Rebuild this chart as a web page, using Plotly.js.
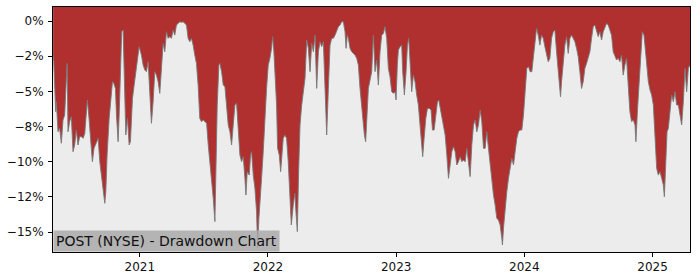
<!DOCTYPE html>
<html>
<head>
<meta charset="utf-8">
<script src="https://cdn.plot.ly/plotly-3.0.1.min.js"></script>
<style>html,body{margin:0;padding:0;background:#fff;}#chart{width:700px;height:280px;}</style>
</head>
<body>
<div id="chart"></div>
<script>
// Time in decimal years
const years = [
2020.324,2020.329,2020.344,2020.349,2020.362,2020.375,2020.388,2020.401,2020.414,2020.427,2020.433,2020.440,2020.453,2020.466,2020.479,2020.492,2020.505,2020.518,2020.531,2020.545,2020.558,2020.571,2020.584,2020.591,2020.604,2020.615,2020.630,2020.643,2020.662,2020.675,2020.688,2020.701,2020.714,2020.727,2020.735,2020.745,2020.761,2020.774,2020.787,2020.797,2020.810,2020.818,2020.831,2020.839,2020.849,2020.859,2020.870,2020.880,2020.891,2020.904,2020.917,2020.927,2020.943,2020.956,2020.969,2020.982,2020.995,
2021.013,2021.026,2021.039,2021.052,2021.065,2021.078,2021.091,2021.104,2021.117,2021.130,2021.143,2021.156,2021.169,2021.182,2021.195,2021.208,2021.221,2021.234,2021.247,2021.260,2021.273,2021.286,2021.299,2021.312,2021.325,2021.338,2021.351,2021.364,2021.377,2021.390,2021.403,2021.416,2021.429,2021.442,2021.455,2021.468,2021.481,2021.495,2021.508,2021.521,2021.534,2021.547,2021.560,2021.573,
2021.586,2021.594,2021.604,2021.617,2021.625,2021.638,2021.651,2021.664,2021.677,2021.690,2021.703,2021.716,2021.729,2021.742,2021.755,2021.768,2021.781,2021.794,2021.807,2021.820,2021.828,2021.838,2021.854,2021.864,2021.872,2021.885,2021.898,2021.911,2021.919,2021.929,2021.937,2021.950,2021.963,2021.976,2021.989,
2022.002,2022.015,2022.028,2022.036,2022.046,2022.054,2022.067,2022.075,2022.088,2022.099,2022.106,2022.119,2022.132,2022.145,2022.158,2022.171,2022.182,2022.197,2022.210,2022.218,2022.229,2022.239,2022.250,2022.263,2022.276,2022.289,2022.302,2022.315,2022.328,2022.341,2022.354,2022.367,2022.380,2022.393,2022.406,2022.419,2022.432,2022.445,2022.458,2022.471,2022.484,2022.497,2022.510,2022.523,2022.536,2022.549,2022.562,2022.575,2022.588,2022.601,2022.609,2022.619,2022.627,2022.640,2022.653,2022.666,2022.679,2022.692,2022.705,2022.718,2022.731,2022.744,2022.752,2022.762,2022.770,2022.783,
2022.809,2022.822,2022.835,2022.848,2022.861,2022.874,2022.887,2022.900,2022.913,2022.926,2022.939,2022.952,2022.965,2022.978,2022.991,2022.999,
2023.009,2023.017,2023.030,2023.043,2023.051,2023.064,2023.077,2023.088,2023.098,2023.108,2023.121,2023.134,2023.147,2023.160,2023.173,2023.186,2023.199,2023.207,2023.218,2023.231,2023.244,2023.259,2023.272,2023.283,2023.296,2023.309,2023.322,2023.332,2023.343,2023.356,2023.369,2023.382,2023.395,2023.408,2023.421,2023.434,2023.447,2023.460,2023.473,2023.486,2023.499,2023.512,2023.525,2023.538,2023.551,2023.564,2023.577,2023.590,2023.603,2023.616,2023.629,2023.642,2023.655,2023.668,2023.681,2023.694,2023.707,2023.720,2023.733,2023.746,2023.759,2023.772,2023.785,2023.798,2023.811,2023.824,2023.829,2023.837,2023.850,2023.863,2023.876,2023.889,2023.902,2023.915,2023.928,2023.941,2023.954,2023.967,2023.980,2023.993,
2024.006,2024.019,2024.032,2024.045,2024.058,2024.071,2024.084,2024.095,2024.108,2024.121,2024.134,2024.147,2024.160,2024.173,2024.186,2024.199,2024.212,2024.225,2024.238,2024.251,2024.264,2024.277,2024.282,2024.290,2024.303,2024.316,2024.329,2024.342,2024.355,2024.368,2024.381,2024.394,2024.407,2024.420,2024.433,2024.446,2024.459,2024.472,2024.485,2024.498,2024.511,2024.524,2024.537,2024.550,2024.563,2024.576,2024.589,2024.602,2024.615,2024.628,2024.641,2024.654,2024.667,2024.680,2024.693,2024.706,2024.719,2024.732,2024.745,2024.758,2024.771,2024.784,2024.797,2024.810,2024.823,2024.836,2024.850,2024.863,2024.870,2024.883,2024.896,2024.909,2024.920,2024.933,2024.941,2024.954,2024.967,2024.980,2024.993,
2025.006,2025.019,2025.032,2025.045,2025.058,2025.071,2025.084,2025.092,2025.102,2025.113,2025.123,2025.136,2025.149,2025.162,2025.175,2025.188,2025.201,2025.214,2025.227,2025.240,2025.253,2025.266,2025.279,2025.292
];

// Drawdown in percent
const drawdown = [
-2.50,-2.89,-6.44,-5.73,-7.87,-7.63,-8.69,-7.04,-6.68,-3.13,-3.01,-7.87,-7.15,-6.80,-9.29,-8.81,-7.75,-8.81,-8.22,-8.22,-8.34,-7.98,-6.68,-5.61,-6.92,-8.10,-10.00,-9.05,-8.58,-8.34,-10.00,-10.95,-12.13,-12.96,-12.13,-9.52,-6.92,-5.26,-4.31,-4.43,-4.79,-6.68,-8.58,-6.68,-3.36,-0.76,-0.64,-3.60,-8.10,-6.92,-8.81,-8.58,-5.50,-4.55,-3.60,-2.65,-1.82,
-2.42,-3.13,-3.48,-3.60,-2.89,-5.50,-7.27,-5.73,-3.60,-3.84,-4.31,-5.14,-3.13,-1.59,-2.18,-0.76,-1.23,-1.11,-1.23,-0.64,-1.00,-0.28,-0.17,-0.05,-0.09,-0.05,-0.17,-0.28,-1.23,-1.47,-1.23,-1.71,-2.42,-3.01,-4.55,-6.92,-7.15,-7.04,-7.15,-7.27,-8.81,-10.00,-11.42,-12.60,
-14.26,-10.71,-5.97,-3.13,-3.01,-3.60,-4.55,-4.67,-5.97,-7.39,-7.87,-8.81,-7.39,-5.97,-5.85,-7.87,-9.52,-10.00,-9.64,-11.18,-12.37,-10.71,-10.95,-9.52,-9.29,-10.95,-11.89,-13.55,-16.16,-14.02,-13.08,-11.18,-9.29,-6.68,-4.79,
-3.13,-2.65,-1.94,-1.11,-2.18,-3.36,-5.97,-9.05,-9.52,-10.71,-9.76,-8.34,-8.10,-8.34,-10.00,-12.13,-14.50,-13.08,-12.25,-13.55,-14.97,-10.71,-7.39,-5.97,-4.79,-4.07,-1.35,-1.94,-3.60,-1.59,-2.18,-1.00,-4.79,-2.18,-1.47,-1.82,-1.47,-4.31,-8.10,-4.79,-1.71,-1.23,-1.23,-1.00,-0.64,-0.40,-0.28,-0.05,-0.05,-0.76,-1.94,-1.00,-1.23,-1.94,-2.18,-2.30,-2.42,-2.65,-3.13,-4.79,-5.97,-7.63,-8.10,-8.58,-6.68,-4.79,
-3.60,-1.00,-3.60,-2.77,-4.55,-2.18,-1.00,-0.88,-0.40,-1.23,-3.36,-3.96,-5.02,-5.14,-5.02,-5.61,
-3.13,-2.06,-1.82,-1.71,-3.60,-5.26,-3.60,-1.71,-1.23,-3.36,-5.02,-3.84,-4.31,-5.26,-5.97,-7.39,-9.29,-9.64,-8.34,-6.92,-6.21,-6.21,-6.33,-7.75,-7.75,-6.92,-5.73,-5.61,-6.21,-6.92,-7.63,-8.10,-9.52,-11.18,-10.23,-9.29,-8.93,-9.29,-10.23,-10.00,-9.64,-10.00,-9.88,-10.00,-9.05,-10.00,-11.06,-8.81,-7.39,-7.04,-7.87,-7.39,-6.33,-7.15,-9.05,-9.05,-7.87,-9.05,-10.23,-11.42,-12.37,-13.08,-14.03,-14.14,-14.50,-15.45,-15.92,-14.74,-13.08,-12.13,-11.18,-10.47,-9.76,-10.23,-9.05,-8.34,-7.87,-7.75,-7.75,-6.68,
-5.02,-3.36,-3.25,-3.60,-3.60,-2.42,-1.71,-0.52,-1.00,-1.71,-1.00,-1.23,-1.82,-2.42,-2.89,-2.65,-1.23,-0.76,-0.64,-2.18,-3.60,-4.55,-5.38,-4.31,-2.89,-1.71,-1.11,-2.30,-1.23,-1.00,-1.23,-1.47,-1.94,-2.53,-3.60,-4.79,-4.31,-3.36,-3.01,-2.65,-2.18,-1.23,-0.40,-0.28,-0.76,-1.11,-0.76,-1.35,-0.76,-0.40,-0.17,-0.28,-0.64,-1.00,-2.18,-2.42,-2.77,-2.65,-2.89,-2.42,-3.84,-3.13,-2.65,-4.55,-6.44,-7.15,-7.04,-7.39,-8.58,-6.21,-4.55,-2.42,-0.76,-1.00,-1.71,-2.65,-4.31,-4.90,-5.26,
-5.97,-8.34,-10.47,-10.95,-10.71,-11.18,-11.66,-12.49,-10.00,-7.87,-7.63,-6.44,-5.26,-5.73,-5.02,-5.97,-5.97,-6.68,-7.39,-5.73,-3.36,-5.02,-3.36,-3.13
];

const yTickVals = [0, -2.5, -5, -7.5, -10, -12.5, -15];
const yTickText = ['0%', '\u22122%', '\u22125%', '\u22128%', '\u221210%', '\u221212%', '\u221215%'];
const xTickVals = [2021, 2022, 2023, 2024, 2025];
const xTickText = ['2021', '2022', '2023', '2024', '2025'];
const chartTitle = 'POST (NYSE) - Drawdown Chart';

const Y_TOP = 1.0, Y_BOTTOM = -16.42;
const X_LEFT = 2020.323, X_RIGHT = 2025.292;

const traces = [
  { x: years, y: years.map(() => Y_TOP), type: 'scatter', mode: 'lines',
    line: { width: 0, color: 'rgba(0,0,0,0)' }, hoverinfo: 'skip', showlegend: false },
  { x: years, y: drawdown, type: 'scatter', mode: 'lines', fill: 'tonexty',
    fillcolor: '#b03030', line: { color: 'rgba(120,120,120,0.9)', width: 1 }, showlegend: false }
];

const font = { family: 'DejaVu Sans, sans-serif', size: 12, color: '#111' };
const layout = {
  width: 700, height: 280,
  margin: { l: 53, r: 10, t: 7, b: 28, pad: 0 },
  paper_bgcolor: '#ffffff', plot_bgcolor: '#ececec',
  font: font, showlegend: false,
  xaxis: { range: [X_LEFT, X_RIGHT], tickvals: xTickVals, ticktext: xTickText,
    showgrid: false, zeroline: false, showline: true, linecolor: '#000', linewidth: 1, mirror: true,
    ticks: 'outside', ticklen: 4, tickcolor: '#000', tickwidth: 1, tickfont: font },
  yaxis: { range: [Y_BOTTOM, Y_TOP], tickvals: yTickVals, ticktext: yTickText,
    showgrid: false, zeroline: false, showline: true, linecolor: '#000', linewidth: 1, mirror: true,
    ticks: 'outside', ticklen: 4, tickcolor: '#000', tickwidth: 1, tickfont: font,
    ticklabelstandoff: 2 },
  annotations: [{ text: chartTitle, xref: 'paper', yref: 'paper', x: 0, y: 0,
    xanchor: 'left', yanchor: 'bottom', showarrow: false,
    font: { family: 'DejaVu Sans, sans-serif', size: 14, color: '#111' },
    bgcolor: 'rgba(170,170,170,0.85)', borderpad: 2 }]
};

Plotly.newPlot('chart', traces, layout, { staticPlot: true, displayModeBar: false });
</script>
</body>
</html>
